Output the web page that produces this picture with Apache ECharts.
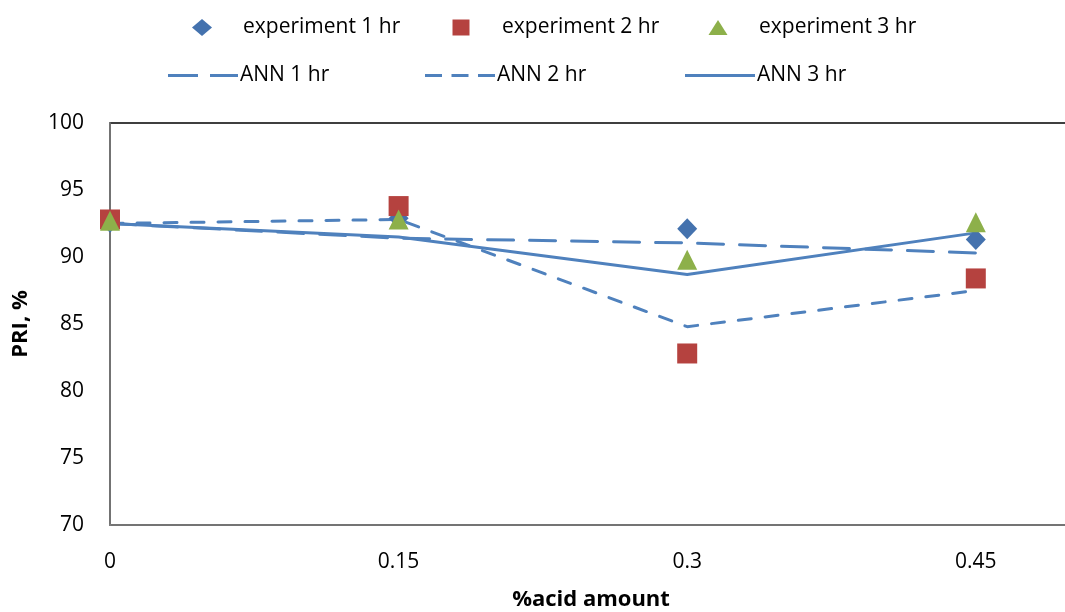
<!DOCTYPE html>
<html>
<head>
<meta charset="utf-8">
<script src="https://cdn.jsdelivr.net/npm/echarts@6/dist/echarts.min.js"></script>
<style>
  html, body { margin: 0; padding: 0; background: #fff; }
  #chart { width: 1065px; height: 612px; }
</style>
</head>
<body>
<div id="chart"></div>
<script>
// Acid amount (%) on the x axis
const acidAmounts = [0, 0.15, 0.3, 0.45];
const xTickLabels = ['0', '0.15', '0.3', '0.45'];
const yTickValues = [70, 75, 80, 85, 90, 95, 100];

// Measured PRI (%)
const experiment1hr = [92.6, 92.9, 92.1, 91.3];
const experiment2hr = [92.8, 93.8, 82.8, 88.4];
const experiment3hr = [92.7, 92.8, 89.8, 92.6];

// ANN predictions of PRI (%)
const ann1hr = [92.5, 91.4, 91.05, 90.3];
const ann2hr = [92.5, 92.8, 84.8, 87.5];
const ann3hr = [92.5, 91.5, 88.7, 91.8];

const FONT = '"Open Sans", "Noto Sans", sans-serif';
const LINE_BLUE = '#4F81BD';
const DIAMOND_BLUE = '#4472AE';
const SQUARE_RED = '#B5423F';
const TRIANGLE_GREEN = '#8DB04A';

function pairs(values) {
  return acidAmounts.map((x, i) => [x, values[i]]);
}

const chart = echarts.init(document.getElementById('chart'), null, { renderer: 'canvas' });

// One legend box per entry so every key sits in its own column.
function markerKey(name, icon, left, top, w, h) {
  return {
    left: left, top: top, padding: 0,
    itemWidth: w, itemHeight: h,
    symbolKeepAspect: false,
    selectedMode: false,
    itemStyle: { opacity: 1 },
    textStyle: {
      fontFamily: FONT, fontSize: 21, color: '#000',
      padding: [0, 0, 0, 41 - w / 2 - 5]
    },
    data: [{ name: name, icon: icon }]
  };
}
function lineKey(name, icon, left, top) {
  return {
    left: left, top: top, padding: 0,
    itemWidth: 70, itemHeight: 3,
    symbolKeepAspect: false,
    selectedMode: false,
    textStyle: { fontFamily: FONT, fontSize: 21, color: '#000', padding: [0, 0, 0, -3] },
    data: [{ name: name, icon: icon }]
  };
}

chart.setOption({
  animation: false,
  backgroundColor: '#fff',
  legend: [
    markerKey('experiment 1 hr', 'diamond', 202 - 10, 17, 20, 17),
    markerKey('experiment 2 hr', 'rect', 461 - 8.5, 17, 17, 16),
    markerKey('experiment 3 hr', 'triangle', 718 - 9.5, 17, 19, 15),
    lineKey('ANN 1 hr', 'path://M0,0h30v3h-30Z M42,0h28v3h-28Z', 168, 65),
    lineKey('ANN 2 hr', 'path://M0,0h17v3h-17Z M26.5,0h17v3h-17Z M53,0h17v3h-17Z', 425, 65),
    lineKey('ANN 3 hr', 'path://M0,0h70v3h-70Z', 685, 65)
  ],
  grid: {
    left: 110, top: 123, right: -7, bottom: 87,
    outerBoundsMode: 'none',
    containLabel: false,
    show: true, borderColor: '#000', borderWidth: 1.5
  },
  xAxis: {
    type: 'value',
    min: 0, max: 0.5, interval: 0.15,
    name: '%acid amount',
    nameLocation: 'middle',
    nameGap: 64,
    nameTextStyle: { fontFamily: FONT, fontSize: 22, fontWeight: 'bold', color: '#000' },
    axisLine: { show: true, lineStyle: { color: '#868686', width: 1.5 } },
    axisTick: { show: false },
    splitLine: { show: false },
    axisLabel: {
      fontFamily: FONT, fontSize: 21, color: '#000', margin: 27,
      formatter: v => {
        const i = acidAmounts.findIndex(a => Math.abs(a - v) < 1e-9);
        return i >= 0 ? xTickLabels[i] : '';
      }
    }
  },
  yAxis: {
    type: 'value',
    min: yTickValues[0], max: yTickValues[yTickValues.length - 1], interval: 5,
    name: 'PRI, %',
    nameLocation: 'middle',
    nameGap: 78,
    nameRotate: 90,
    nameTextStyle: { fontFamily: FONT, fontSize: 22, fontWeight: 'bold', color: '#000' },
    axisLine: { show: true, lineStyle: { color: '#868686', width: 1.5 } },
    axisTick: { show: false },
    splitLine: { show: false },
    axisLabel: { fontFamily: FONT, fontSize: 21, color: '#000', margin: 26 }
  },
  series: [
    {
      name: 'ANN 1 hr', type: 'line', data: pairs(ann1hr),
      symbol: 'none', z: 2,
      itemStyle: { color: LINE_BLUE },
      lineStyle: { color: LINE_BLUE, width: 3, type: [26, 16], cap: 'round' }
    },
    {
      name: 'ANN 2 hr', type: 'line', data: pairs(ann2hr),
      symbol: 'none', z: 2,
      itemStyle: { color: LINE_BLUE },
      lineStyle: { color: LINE_BLUE, width: 3, type: [13, 14], cap: 'round' }
    },
    {
      name: 'ANN 3 hr', type: 'line', data: pairs(ann3hr),
      symbol: 'none', z: 2,
      itemStyle: { color: LINE_BLUE },
      lineStyle: { color: LINE_BLUE, width: 3, type: 'solid' }
    },
    {
      name: 'experiment 1 hr', type: 'scatter', data: pairs(experiment1hr),
      symbol: 'diamond', symbolSize: [20, 21], z: 3,
      itemStyle: { color: DIAMOND_BLUE, opacity: 1 }
    },
    {
      name: 'experiment 2 hr', type: 'scatter', data: pairs(experiment2hr),
      symbol: 'rect', symbolSize: 20, z: 4,
      itemStyle: { color: SQUARE_RED, opacity: 1 }
    },
    {
      name: 'experiment 3 hr', type: 'scatter', data: pairs(experiment3hr),
      symbol: 'triangle', symbolSize: 20, z: 5,
      itemStyle: { color: TRIANGLE_GREEN, opacity: 1 }
    }
  ]
});
</script>
</body>
</html>
